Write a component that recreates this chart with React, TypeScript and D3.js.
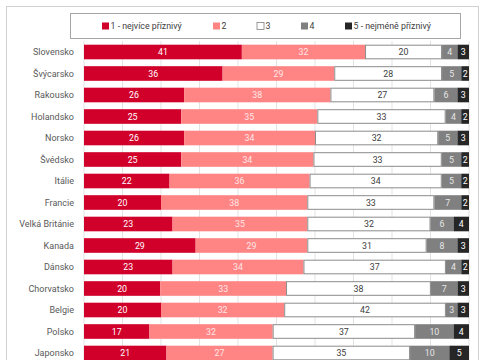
import React from "react";
import * as d3 from "d3";

const countries = [
  "Slovensko", "Švýcarsko", "Rakousko", "Holandsko", "Norsko", "Švédsko", "Itálie",
  "Francie", "Velká Británie", "Kanada", "Dánsko", "Chorvatsko", "Belgie", "Polsko", "Japonsko",
];
const s1 = [41, 36, 26, 25, 26, 25, 22, 20, 23, 29, 23, 20, 20, 17, 21];
const s2 = [32, 29, 38, 35, 34, 34, 36, 38, 35, 29, 34, 33, 32, 32, 27];
const s3 = [20, 28, 27, 33, 32, 33, 34, 33, 32, 31, 37, 38, 42, 37, 35];
const s4 = [4, 5, 6, 4, 5, 5, 5, 7, 6, 8, 4, 7, 3, 10, 10];
const s5 = [3, 2, 3, 2, 3, 2, 2, 2, 4, 3, 2, 3, 3, 4, 5];
const seriesNames = ["1 - nejvíce příznivý", "2", "3", "4", "5 - nejméně příznivý"];
const fills = ["#d0002b", "#ff8585", "#ffffff", "#808080", "#262626"];
const textColors = ["#ffffff", "#ffe6e6", "#404040", "#e6e6e6", "#ffffff"];
const ticks = [0, 0.1, 0.2, 0.3, 0.4, 0.5, 0.6, 0.7, 0.8, 0.9, 1];

const W = 485;
const H = 360;

export default function App() {
  const all = [s1, s2, s3, s4, s5];
  const rows = countries.map((c, i) => {
    const r: any = { country: c };
    all.forEach((s, k) => (r["k" + k] = s[i]));
    return r;
  });
  const keys = all.map((_, k) => "k" + k);
  const stacked = d3.stack().keys(keys).offset(d3.stackOffsetExpand)(rows);

  const x = d3.scaleLinear().domain([0, 1]).range([84, 469]);
  const y = d3.scaleBand().domain(countries).range([41.25, 41.25 + 15 * 21.5]).paddingInner(0.32).paddingOuter(0.16);

  const font = "Roboto, 'Liberation Sans', sans-serif";
  const legendX = [102, 213, 257, 301, 345];

  return (
    <svg width={W} height={H} style={{ position: "absolute", left: 0, top: 0 }} fontFamily={font}>
      <rect x={0} y={0} width={W} height={H} fill="#fff" />
      <rect x={6.5} y={6.5} width={472} height={H} fill="none" stroke="#d0d0d0" />
      {/* legend */}
      <rect x={70.5} y={13.5} width={390} height={25} fill="#fff" stroke="#a6a6a6" />
      {seriesNames.map((n, k) => (
        <g key={n}>
          <rect x={legendX[k]} y={22.5} width={7} height={7} fill={fills[k]} stroke={k === 2 ? "#808080" : "none"} strokeWidth={0.8} />
          <text x={legendX[k] + 8.5} y={29.2} fontSize={8.8} fill="#404040">{n}</text>
        </g>
      ))}
      {/* grid */}
      {ticks.map((t) => (
        <line key={t} x1={x(t)} x2={x(t)} y1={41} y2={H} stroke="#e3e3e3" strokeWidth={1} />
      ))}
      {/* bars */}
      {stacked.map((layer, k) => (
        <g key={layer.key}>
          {layer.map((d, i) => {
            const x0 = x(d[0]);
            const x1 = x(d[1]);
            const yy = y(countries[i])!;
            return (
              <g key={i}>
                <rect
                  x={k === 2 ? x0 + 0.5 : x0}
                  y={k === 2 ? yy + 0.5 : yy}
                  width={k === 2 ? x1 - x0 - 1 : x1 - x0}
                  height={k === 2 ? y.bandwidth() - 1 : y.bandwidth()}
                  fill={fills[k]}
                  stroke={k === 2 ? "#8c8c8c" : "none"}
                  strokeWidth={1}
                />
                <text
                  x={(x0 + x1) / 2}
                  y={yy + y.bandwidth() / 2 + 3.1}
                  textAnchor="middle"
                  fontSize={8.8}
                  fill={textColors[k]}
                >
                  {all[k][i]}
                </text>
              </g>
            );
          })}
        </g>
      ))}
      {/* category labels */}
      {countries.map((c) => (
        <text key={c} x={74} y={y(c)! + y.bandwidth() / 2 + 3.3} textAnchor="end" fontSize={9} fill="#595959">
          {c}
        </text>
      ))}
    </svg>
  );
}
